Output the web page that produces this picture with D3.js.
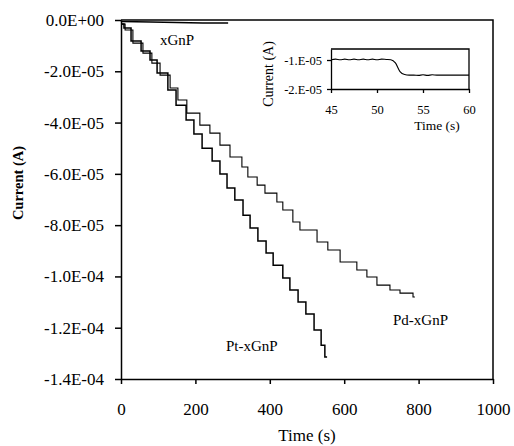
<!DOCTYPE html>
<meta charset="utf-8">
<head>
  <title>Current vs time</title>
</head>

<style>
body {
  margin: 0;
  background: #fff;
}
svg text {
  font-family: "Times New Roman", Times, "Liberation Serif", serif;
  fill: #000;
}
</style>

<body>
  <svg width="514" height="446"></svg>

  <script src="https://cdnjs.cloudflare.com/ajax/libs/d3/7.8.5/d3.min.js"></script>

  <script>
// currents are in units of 1e-5 A

// Pt-xGnP: time of each step, current level after it
var ptTime = [0, 8, 27, 54, 78, 97, 126, 148, 175, 196, 218, 245, 266, 285, 306, 328, 347, 368, 390, 409, 435, 454, 476, 497, 519, 538, 548, 554];
var ptCurrent = [-0.16, -0.31, -0.82, -1.21, -1.56, -2.07, -2.73, -3.32, -3.90, -4.45, -5.00, -5.50, -6.01, -6.55, -7.02, -7.61, -8.11, -8.62, -9.09, -9.56, -10.06, -10.53, -11.00, -11.47, -12.09, -12.68, -13.14, -13.14];

// Pd-xGnP
var pdTime = [0, 11, 32, 59, 83, 105, 132, 153, 177, 212, 239, 266, 293, 325, 341, 366, 387, 419, 435, 462, 481, 527, 556, 589, 634, 661, 688, 723, 750, 785, 790];
var pdCurrent = [-0.16, -0.39, -0.90, -1.29, -1.68, -2.15, -2.65, -3.12, -3.63, -4.10, -4.41, -4.88, -5.34, -5.73, -6.12, -6.44, -6.75, -7.10, -7.41, -7.88, -8.19, -8.66, -8.97, -9.44, -9.75, -10.02, -10.34, -10.53, -10.65, -10.80, -10.80];

// xGnP
var xgTime = [0, 3, 40, 80, 150, 220, 288];
var xgCurrent = [-0.04, -0.06, -0.07, -0.08, -0.10, -0.12, -0.12];

// inset: one step of Pt-xGnP, 45-60 s
var insetTime = [45, 45.5, 46, 46.5, 47, 47.5, 48, 48.5, 49, 49.5, 50, 50.5, 51, 51.5, 52, 52.5, 53, 53.5, 54, 54.5, 55, 55.5, 56, 56.5, 57, 57.5, 58, 58.5, 59, 59.5, 60];
var insetCurrent = [-0.99, -0.97, -0.99, -0.97, -0.99, -0.97, -0.99, -0.97, -0.99, -0.97, -0.99, -0.97, -0.98, -0.99, -1.10, -1.40, -1.50, -1.52, -1.52, -1.53, -1.51, -1.53, -1.51, -1.52, -1.52, -1.52, -1.52, -1.52, -1.52, -1.52, -1.52];

var xTicks = [0, 200, 400, 600, 800, 1000];
var yTicks = [0, -2, -4, -6, -8, -10, -12, -14];
var yTickLabels = ['0.0E+00', '-2.0E-05', '-4.0E-05', '-6.0E-05', '-8.0E-05', '-1.0E-04', '-1.2E-04', '-1.4E-04'];
var insetXTicks = [45, 50, 55, 60];
var insetYTicks = [-1, -2];
var insetYTickLabels = ['-1.E-05', '-2.E-05'];

var serif = '"Times New Roman", Times, "Liberation Serif", serif';

function zip(a, b) {
  return a.map(function(d, i) { return [d, b[i]]; });
}

var svg = d3.select('svg');

// MAIN PLOT
var x = d3.scaleLinear().domain([0, 1000]).range([121, 493]);
var y = d3.scaleLinear().domain([-14, 0]).range([379, 20]);

var xAxis = svg.append('g')
  .attr('transform', 'translate(0,379)')
  .call(d3.axisBottom(x).tickValues(xTicks).tickSize(5).tickSizeOuter(0).tickPadding(19)
    .tickFormat(d3.format('d')));
var yAxis = svg.append('g')
  .attr('transform', 'translate(121,0)')
  .call(d3.axisLeft(y).tickValues(yTicks).tickSize(6).tickSizeOuter(0).tickPadding(11)
    .tickFormat(function(d, i) { return yTickLabels[i]; }));

[xAxis, yAxis].forEach(function(g) {
  g.selectAll('path, line').attr('stroke', '#000').attr('stroke-width', 1.5);
  g.selectAll('text').attr('font-size', 17).attr('font-family', serif);
});

// frame top and right
svg.append('path')
  .attr('d', 'M' + x(0) + ',' + y(0) + 'H' + x(1000) + 'V' + y(-14))
  .attr('fill', 'none').attr('stroke', '#000').attr('stroke-width', 1.5);

var stepLine = d3.line()
  .x(function(d) { return x(d[0]); })
  .y(function(d) { return y(d[1]); })
  .curve(d3.curveStepAfter);

svg.append('path')
  .attr('d', stepLine(zip(pdTime, pdCurrent)))
  .attr('fill', 'none').attr('stroke', '#000').attr('stroke-width', 1.1);

svg.append('path')
  .attr('d', stepLine(zip(ptTime, ptCurrent)))
  .attr('fill', 'none').attr('stroke', '#000').attr('stroke-width', 1.5);

svg.append('path')
  .attr('d', d3.line().x(function(d) { return x(d[0]); }).y(function(d) { return y(d[1]); })(zip(xgTime, xgCurrent)))
  .attr('fill', 'none').attr('stroke', '#000').attr('stroke-width', 1.5);

// axis titles
svg.append('text')
  .attr('x', 307).attr('y', 441)
  .attr('text-anchor', 'middle').attr('font-size', 17)
  .text('Time (s)');
svg.append('text')
  .attr('transform', 'translate(23,183) rotate(-90)')
  .attr('text-anchor', 'middle').attr('font-size', 14.5).attr('font-weight', 'bold')
  .text('Current (A)');

// series labels
svg.append('text').attr('x', 160).attr('y', 45).attr('font-size', 15).text('xGnP');
svg.append('text').attr('x', 226).attr('y', 351).attr('font-size', 15).text('Pt-xGnP');
svg.append('text').attr('x', 393).attr('y', 325).attr('font-size', 15).text('Pd-xGnP');

// INSET
var ix = d3.scaleLinear().domain([45, 60]).range([331, 469]);
var iy = d3.scaleLinear().domain([-2, -0.62]).range([89, 49]);

var ixAxis = svg.append('g')
  .attr('transform', 'translate(0,89)')
  .call(d3.axisBottom(ix).tickValues(insetXTicks).tickSize(4).tickSizeOuter(0).tickPadding(12));
var iyAxis = svg.append('g')
  .attr('transform', 'translate(331,0)')
  .call(d3.axisLeft(iy).tickValues(insetYTicks).tickSize(4).tickSizeOuter(0).tickPadding(5)
    .tickFormat(function(d, i) { return insetYTickLabels[i]; }));

[ixAxis, iyAxis].forEach(function(g) {
  g.selectAll('path, line').attr('stroke', '#000').attr('stroke-width', 1.3);
  g.selectAll('text').attr('font-size', 12.5).attr('font-family', serif);
});

svg.append('path')
  .attr('d', 'M' + ix(45) + ',' + iy(-0.62) + 'H' + ix(60) + 'V' + iy(-2))
  .attr('fill', 'none').attr('stroke', '#000').attr('stroke-width', 1.3);

svg.append('path')
  .attr('d', d3.line().x(function(d) { return ix(d[0]); }).y(function(d) { return iy(d[1]); })
    .curve(d3.curveMonotoneX)(zip(insetTime, insetCurrent)))
  .attr('fill', 'none').attr('stroke', '#000').attr('stroke-width', 1.1);

svg.append('text')
  .attr('x', 437).attr('y', 130)
  .attr('text-anchor', 'middle').attr('font-size', 13.5)
  .text('Time (s)');
svg.append('text')
  .attr('transform', 'translate(273,74) rotate(-90)')
  .attr('text-anchor', 'middle').attr('font-size', 14)
  .text('Current (A)');
  </script>
</body>
</html>
